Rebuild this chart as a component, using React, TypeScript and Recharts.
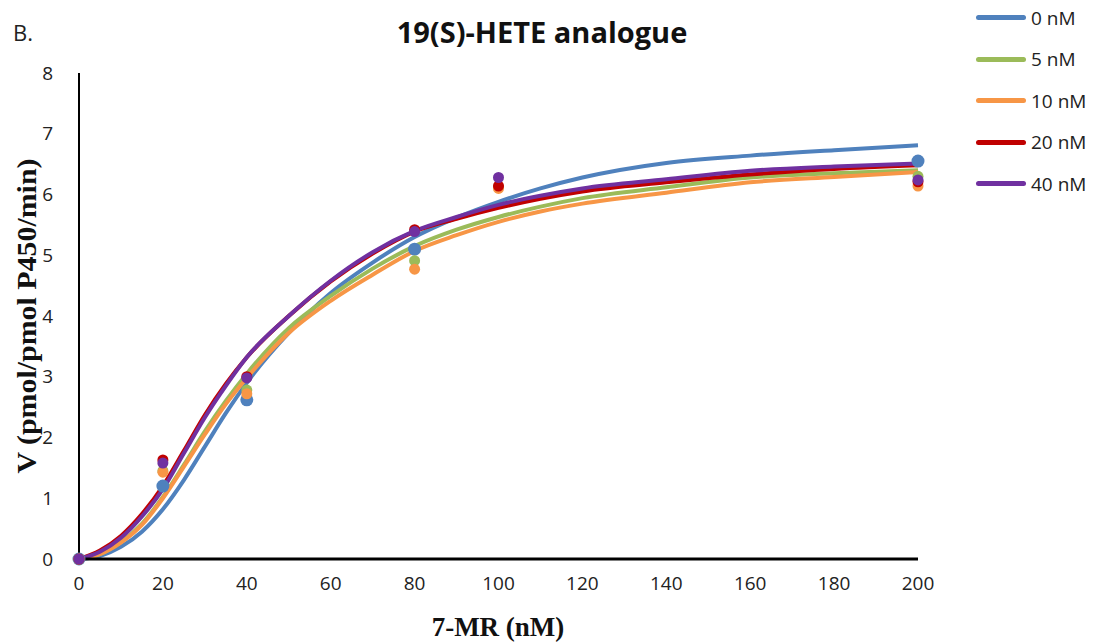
import React from "react"
import { ComposedChart, Line, Scatter, XAxis, YAxis, Label } from "recharts"

// fitted curve sample points (nM)
const curveX = [0, 5, 10, 15, 20, 25, 30, 35, 40, 50, 60, 70, 80, 90, 100, 110, 120, 140, 160, 180, 200]
const fit0 = [0, 0.05, 0.2, 0.45, 0.82, 1.3, 1.85, 2.4, 2.9, 3.72, 4.38, 4.88, 5.3, 5.62, 5.88, 6.1, 6.28, 6.52, 6.64, 6.73, 6.81]
const fit5 = [0, 0.08, 0.28, 0.58, 1.02, 1.55, 2.1, 2.6, 3.05, 3.8, 4.33, 4.78, 5.15, 5.42, 5.63, 5.8, 5.94, 6.12, 6.28, 6.35, 6.4]
const fit10 = [0, 0.08, 0.27, 0.56, 1.0, 1.52, 2.05, 2.55, 2.98, 3.72, 4.25, 4.68, 5.07, 5.33, 5.55, 5.72, 5.85, 6.03, 6.2, 6.29, 6.37]
const fit20 = [0, 0.14, 0.38, 0.74, 1.2, 1.78, 2.37, 2.88, 3.32, 4.0, 4.57, 5.03, 5.39, 5.6, 5.78, 5.93, 6.05, 6.2, 6.33, 6.42, 6.48]
const fit40 = [0, 0.12, 0.35, 0.7, 1.15, 1.74, 2.33, 2.85, 3.32, 4.0, 4.58, 5.05, 5.4, 5.63, 5.83, 5.98, 6.1, 6.25, 6.39, 6.46, 6.51]

// measured points
const pointX = [0, 20, 40, 80, 100, 200]
const obs0 = [0, 1.2, 2.62, 5.1, null, 6.55]
const obs5 = [0, 1.45, 2.78, 4.91, 6.12, 6.3]
const obs10 = [0, 1.43, 2.72, 4.77, 6.1, 6.14]
const obs20 = [0, 1.63, 3.0, 5.42, 6.14, 6.21]
const obs40 = [0, 1.58, 2.98, 5.39, 6.28, 6.24]

const xTicks = [0, 20, 40, 60, 80, 100, 120, 140, 160, 180, 200]
const yTicks = [0, 1, 2, 3, 4, 5, 6, 7, 8]

const series = [
    { name: "0 nM", color: "#4F81BD", fit: fit0, obs: obs0, r: 6.5 },
    { name: "5 nM", color: "#9BBB59", fit: fit5, obs: obs5, r: 5.5 },
    { name: "10 nM", color: "#F79646", fit: fit10, obs: obs10, r: 5.5 },
    { name: "20 nM", color: "#C00000", fit: fit20, obs: obs20, r: 5.5 },
    { name: "40 nM", color: "#7030A0", fit: fit40, obs: obs40, r: 5.5 },
]

const font = "'Open Sans', sans-serif"
const serif = "'Liberation Serif', serif"

function LegendBox() {
    return (
        <div style={{ position: "absolute", left: 976, top: -3, fontFamily: font, fontSize: 19, color: "#222" }}>
            {series.map((s) => (
                <div key={s.name} style={{ display: "flex", alignItems: "center", height: 41.5 }}>
                    <div style={{ width: 50, height: 5, borderRadius: 3, background: s.color, marginRight: 5 }} />
                    <span>{s.name}</span>
                </div>
            ))}
        </div>
    )
}

export default function App() {
    return (
        <div style={{ position: "absolute", left: 0, top: 0, width: 1093, height: 644, background: "#fff" }}>
            <div style={{ position: "absolute", left: 13, top: 17, fontFamily: font, fontSize: 22, color: "#222" }}>B.</div>
            <div style={{ position: "absolute", left: 0, width: 1084, top: 12, textAlign: "center", fontFamily: font, fontSize: 29, fontWeight: 700, color: "#111" }}>
                19(S)-HETE analogue
            </div>
            <ComposedChart width={1093} height={644} margin={{ top: 73, right: 175, bottom: 55, left: 39 }}>
                <XAxis
                    type="number"
                    dataKey="x"
                    domain={[0, 200]}
                    ticks={xTicks}
                    tickLine={false}
                    axisLine={{ stroke: "#000", strokeWidth: 3 }}
                    tick={{ fill: "#222", fontSize: 19, fontFamily: font }}
                    tickMargin={12}
                    height={30}
                >
                    <Label
                        content={() => (
                            <text x={498} y={627} textAnchor="middle" dominantBaseline="central"
                                style={{ fontFamily: serif, fontSize: 27, fontWeight: 700, fill: "#111" }}>
                                7-MR (nM)
                            </text>
                        )}
                    />
                </XAxis>
                <YAxis
                    type="number"
                    domain={[0, 8]}
                    ticks={yTicks}
                    tickLine={false}
                    axisLine={{ stroke: "#000", strokeWidth: 2 }}
                    tick={{ fill: "#222", fontSize: 19, fontFamily: font }}
                    tickMargin={20}
                    width={40}
                >
                    <Label
                        content={() => (
                            <text x={26} y={316} transform="rotate(-90 26 316)" textAnchor="middle" dominantBaseline="central"
                                textLength={315} lengthAdjust="spacingAndGlyphs"
                                style={{ fontFamily: serif, fontSize: 28, fontWeight: 700, fill: "#111" }}>
                                V (pmol/pmol P450/min)
                            </text>
                        )}
                    />
                </YAxis>
                {series.map((s) => (
                    <Line
                        key={"fit-" + s.name}
                        data={curveX.map((x, i) => ({ x, y: s.fit[i] }))}
                        dataKey="y"
                        type="monotone"
                        stroke={s.color}
                        strokeWidth={4}
                        dot={false}
                        activeDot={false}
                        legendType="none"
                        isAnimationActive={false}
                    />
                ))}
                {series.map((s) => (
                    <Scatter
                        key={"obs-" + s.name}
                        data={pointX.map((x, i) => ({ x, y: s.obs[i] })).filter((d) => d.y !== null)}
                        dataKey="y"
                        fill={s.color}
                        legendType="none"
                        isAnimationActive={false}
                        shape={(p: any) => <circle cx={p.cx} cy={p.cy} r={s.r} fill={s.color} />}
                    />
                ))}
            </ComposedChart>
            <LegendBox />
        </div>
    )
}
